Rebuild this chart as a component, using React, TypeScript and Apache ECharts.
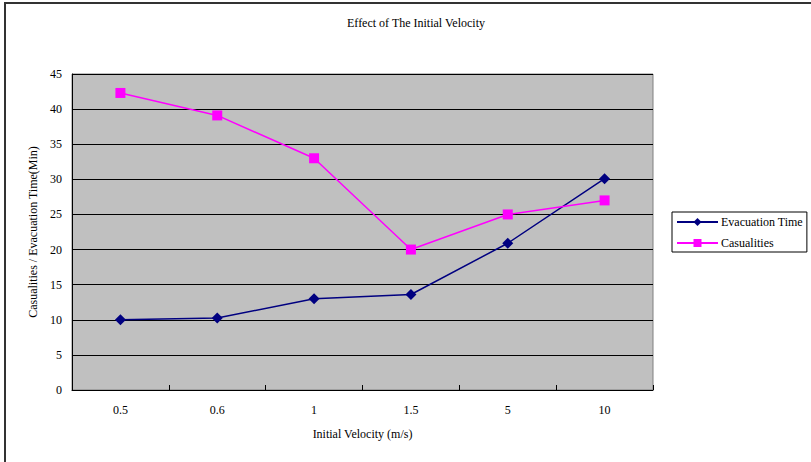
import React, { useEffect, useRef } from "react";
import * as echarts from "echarts";

const categories = ["0.5", "0.6", "1", "1.5", "5", "10"];
const evacuationTime = [10, 10.25, 13, 13.6, 20.9, 30.1];
const casualities = [42.3, 39.1, 33.0, 20.0, 25.0, 27.0];
const yTicks = { min: 0, max: 45, interval: 5 };

const FONT = "'Liberation Serif', 'DejaVu Serif', serif";

export default function App() {
  const ref = useRef<HTMLDivElement>(null);
  useEffect(() => {
    const chart = echarts.init(ref.current!, null, { renderer: "svg" });
    chart.setOption({
      animation: false,
      backgroundColor: "#ffffff",
      textStyle: { fontFamily: FONT, color: "#000" },
      title: {
        text: "Effect of The Initial Velocity",
        left: 411,
        top: 12,
        textAlign: "center",
        textStyle: { fontFamily: FONT, fontSize: 12, fontWeight: "normal", color: "#000" },
      },
      graphic: [
        {
          type: "rect",
          shape: { x: 5, y: 3, width: 820, height: 480 },
          style: { fill: "none", stroke: "#333", lineWidth: 2 },
          silent: true,
        },
      ],
      legend: {
        orient: "vertical",
        left: 672,
        top: 212,
        width: 137,
        padding: [3, 4, 2, 4],
        itemGap: 7,
        itemWidth: 41,
        itemHeight: 10,
        borderColor: "#000",
        borderWidth: 1,
        backgroundColor: "#fff",
        textStyle: { fontFamily: FONT, fontSize: 12, color: "#000", padding: [0, 0, 0, -2], lineHeight: 14 },
        data: ["Evacuation Time", "Casualities"],
      },
      grid: {
        left: 72,
        top: 74,
        width: 581,
        height: 316,
        show: true,
        backgroundColor: "#c0c0c0",
        borderColor: "#808080",
        borderWidth: 1,
        containLabel: false,
      },
      xAxis: {
        type: "category",
        data: categories,
        boundaryGap: true,
        name: "Initial Velocity (m/s)",
        nameLocation: "middle",
        nameGap: 38,
        nameTextStyle: { fontFamily: FONT, fontSize: 12, color: "#000" },
        axisLine: { lineStyle: { color: "#000", width: 1 } },
        axisTick: { show: true, inside: true, length: 5, lineStyle: { color: "#000" } },
        axisLabel: { fontFamily: FONT, fontSize: 12, color: "#000", margin: 14 },
        splitLine: { show: false },
      },
      yAxis: {
        type: "value",
        min: yTicks.min,
        max: yTicks.max,
        interval: yTicks.interval,
        name: "Casualities / Evacuation Time(Min)",
        nameLocation: "middle",
        nameGap: 27,
        nameTextStyle: { fontFamily: FONT, fontSize: 12, color: "#000" },
        axisLine: { show: true, lineStyle: { color: "#000", width: 1 } },
        axisTick: { show: false },
        axisLabel: { fontFamily: FONT, fontSize: 12, color: "#000", margin: 10 },
        splitLine: { show: true, lineStyle: { color: "#000", width: 1 } },
      },
      series: [
        {
          name: "Evacuation Time",
          type: "line",
          data: evacuationTime,
          symbol: "diamond",
          symbolSize: 11,
          itemStyle: { color: "#000080" },
          lineStyle: { color: "#000080", width: 1.5 },
        },
        {
          name: "Casualities",
          type: "line",
          data: casualities,
          symbol: "rect",
          symbolSize: 10,
          itemStyle: { color: "#ff00ff" },
          lineStyle: { color: "#ff00ff", width: 1.5 },
        },
      ],
    });
    return () => chart.dispose();
  }, []);
  return (
    <div
      ref={ref}
      style={{ position: "fixed", left: 0, top: 0, width: 811, height: 462 }}
    />
  );
}
